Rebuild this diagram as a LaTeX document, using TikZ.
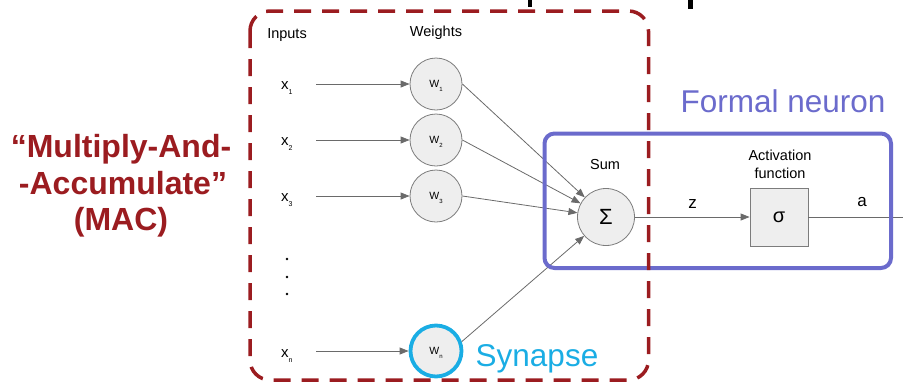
\documentclass[tikz,border=0pt]{standalone}
\usepackage{fontspec}
\setmainfont{Liberation Sans}
\usetikzlibrary{arrows.meta}

\definecolor{macred}{HTML}{9B1C20}
\definecolor{neuronblue}{HTML}{6B6BCC}
\definecolor{synapsecyan}{HTML}{1AADE4}
\definecolor{cellfill}{HTML}{EEEEEE}
\definecolor{cellline}{HTML}{7C7C7C}
\definecolor{wire}{HTML}{6A6A6A}

% subscripted input and weight symbols
\newcommand\inputsym[1]{x\raisebox{-5pt}{\fontsize{7}{7}\selectfont #1}}
\newcommand\weightsym[1]{W\raisebox{-3.5pt}{\fontsize{6}{6}\selectfont #1}}

\begin{document}
\begin{tikzpicture}[x=1pt,y=-1pt,
  cell/.style={circle, draw=cellline, fill=cellfill, line width=0.8pt,
    minimum size=52pt, inner sep=0pt},
  weightcell/.style={cell, font=\fontsize{10.5}{10.5}\selectfont,
    text height=7.5pt, text depth=0pt},
  wirearrow/.style={draw=wire, line width=0.8pt,
    -{Triangle[length=9pt,width=7pt]}},
  wireline/.style={draw=wire, line width=0.8pt},
  label/.style={inner sep=0pt, anchor=base, font=\fontsize{14.5}{18}\selectfont},
  inlabel/.style={inner sep=0pt, anchor=base west, font=\fontsize{15}{15}\selectfont},
  vartext/.style={inner sep=0pt, anchor=base, font=\fontsize{17}{17}\selectfont},
  mactext/.style={inner sep=0pt, anchor=base, text=macred,
    font=\fontsize{32}{36}\selectfont\bfseries},
  bigtext/.style={inner sep=0pt, anchor=base west, font=\fontsize{31.5}{36}\selectfont},
]
\useasboundingbox (0,0) rectangle (903,384);

% cut-off marks along the top edge
\fill[black] (527.5,0) rectangle (532,7);
\fill[black] (688,0) rectangle (692.5,9);

% "Multiply-And-Accumulate" caption
\node[mactext] (mac1) at (121,157) {“Multiply-And-};
\node[mactext] (mac2) at (123,194) {-Accumulate”};
\node[mactext] (mac3) at (121,230) {(MAC)};

% column headings
\node[label] (hin) at (287,38) {Inputs};
\node[label] (hw) at (436,36) {Weights};

% inputs
\node[inlabel] (x1) at (281,89.5) {\inputsym{1}};
\node[inlabel] (x2) at (281,145.5) {\inputsym{2}};
\node[inlabel] (x3) at (281,201.5) {\inputsym{3}};
\node[inlabel] (xn) at (281,357.5) {\inputsym{n}};
\fill (287,259) circle (1.3) (287,277) circle (1.3) (287,294) circle (1.3);

\coordinate (in1) at (316,84);
\coordinate (in2) at (316,140);
\coordinate (in3) at (316,196);
\coordinate (inn) at (316,351);

% weights
\node[weightcell] (w1) at (436,84) {\weightsym{1}};
\node[weightcell] (w2) at (436,140) {\weightsym{2}};
\node[weightcell] (w3) at (436,196) {\weightsym{3}};
\node[weightcell, draw=synapsecyan, line width=3.8pt, minimum size=51pt] (wn) at (436,351) {\weightsym{n}};

% summation and activation
\node[label] (sumlbl) at (605,169) {Sum};
\node[cell, minimum size=57pt, font=\fontsize{22}{22}\selectfont] (sum) at (606,217) {Σ};
\node[label] (actlbl) at (780,160) {Activation};
\node[label] (actlbl2) at (780,178) {function};
\node[draw=cellline, fill=cellfill, line width=0.8pt, minimum size=58pt,
  inner sep=0pt, font=\fontsize{20}{20}\selectfont] (act) at (779,217) {σ};
\coordinate (outend) at (903,217);

% connectors
\draw[wirearrow] (in1) -- (w1);
\draw[wirearrow] (in2) -- (w2);
\draw[wirearrow] (in3) -- (w3);
\draw[wirearrow] (inn) -- (wn);
\draw[wirearrow] (w1.east) -- (sum);
\draw[wirearrow] (w2.east) -- (sum);
\draw[wirearrow] (w3.east) -- (sum);
\draw[wirearrow] (wn.20) -- (sum);
\draw[wirearrow] (sum) -- (act);
\draw[wireline] (act) -- (outend);

\node[vartext] (z) at (692.5,208) {z};
\node[vartext] (a) at (862,206) {a};

% formal neuron frame
\draw[neuronblue, line width=4pt, rounded corners=10pt]
  (544.5,133.5) rectangle (891,268);
\node[bigtext, text=neuronblue] (fn) at (680.5,112) {Formal neuron};

% multiply-and-accumulate frame
\draw[macred, line width=3.5pt, rounded corners=20pt,
  dash pattern=on 17pt off 11pt]
  (250,11) rectangle (648.5,380);

\node[bigtext, text=synapsecyan] (syn) at (475.5,366) {Synapse};
\end{tikzpicture}
\end{document}
